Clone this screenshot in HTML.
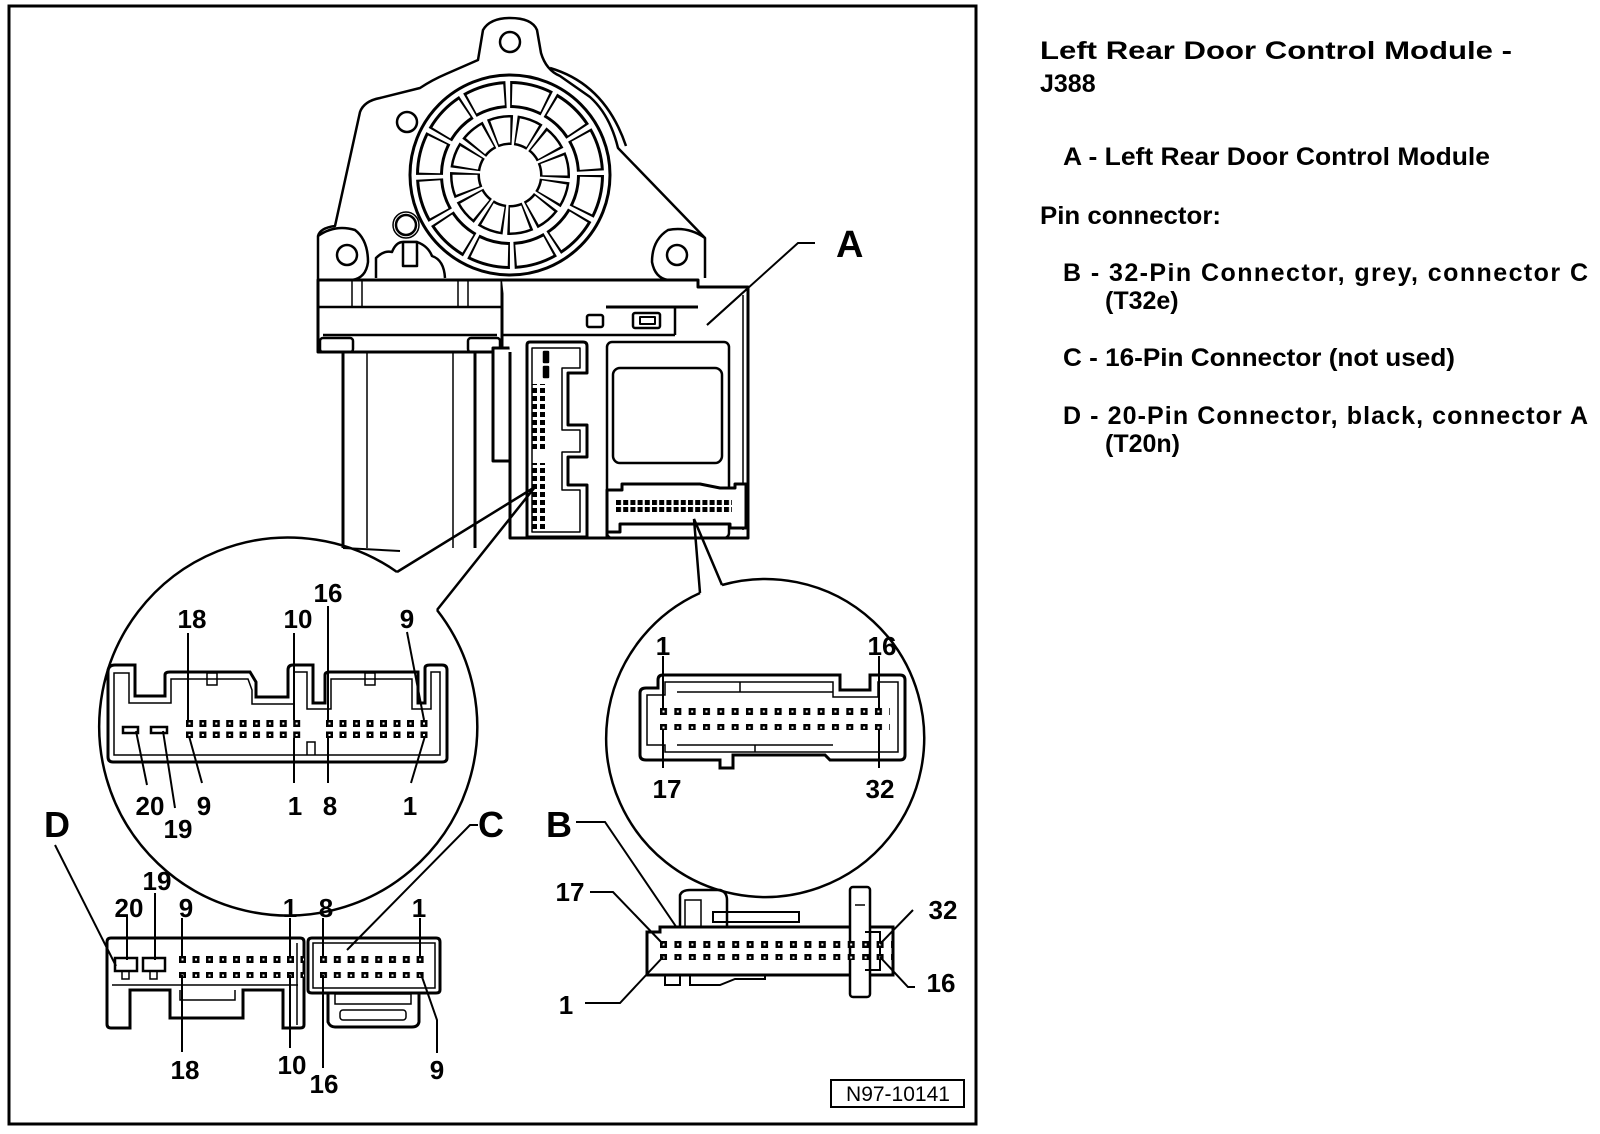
<!DOCTYPE html>
<html><head><meta charset="utf-8"><style>
html,body{margin:0;padding:0;background:#fff;}
svg{display:block;}
text{font-family:"Liberation Sans",Arial,sans-serif;font-weight:bold;fill:#000;}
</style></head><body>
<svg width="1600" height="1134" viewBox="0 0 1600 1134" xmlns="http://www.w3.org/2000/svg">
<defs>
<pattern id="pL" x="186" y="720" width="13.4" height="11.5" patternUnits="userSpaceOnUse"><rect x="0" y="0" width="7" height="7"/><rect x="2.5" y="2.5" width="2" height="2" fill="#fff"/></pattern>
<pattern id="pR" x="326" y="720" width="13.5" height="11.5" patternUnits="userSpaceOnUse"><rect x="0" y="0" width="7" height="7"/><rect x="2.5" y="2.5" width="2" height="2" fill="#fff"/></pattern>
<pattern id="pD" x="179" y="956" width="13.5" height="16" patternUnits="userSpaceOnUse"><rect x="0" y="0" width="7" height="7"/><rect x="2.5" y="2.5" width="2" height="2" fill="#fff"/></pattern>
<pattern id="pC" x="320" y="956" width="13.8" height="16" patternUnits="userSpaceOnUse"><rect x="0" y="0" width="7" height="7"/><rect x="2.5" y="2.5" width="2" height="2" fill="#fff"/></pattern>
<pattern id="pB" x="660" y="941" width="14.44" height="13" patternUnits="userSpaceOnUse"><rect x="0" y="0" width="7" height="7"/><rect x="2.5" y="2.5" width="2" height="2" fill="#fff"/></pattern>
<pattern id="pRC" x="660" y="708" width="14.33" height="16" patternUnits="userSpaceOnUse"><rect x="0" y="0" width="7" height="7"/><rect x="2.5" y="2.5" width="2" height="2" fill="#fff"/></pattern>
<pattern id="pS" x="616" y="500" width="7.2" height="7" patternUnits="userSpaceOnUse"><rect x="0" y="0" width="5" height="5"/></pattern>
<pattern id="pV" x="532" y="380" width="8" height="8" patternUnits="userSpaceOnUse"><rect x="0" y="0" width="5" height="5"/></pattern>
</defs>

<rect x="9" y="6" width="967" height="1118" fill="none" stroke="#000" stroke-width="3"/>

<g fill="none" stroke="#000" stroke-width="2.5" stroke-linejoin="round">
<path d="M318,280 L318,236 Q320,228 335,226 L360,112 Q364,101 380,98 L420,88 Q432,80 446,74 L478,60 L483,30 Q490,18 510,18 Q532,18 537,30 L541,53 Q546,70 560,76 L590,97 Q610,115 618,148 L705,238 L705,278"/>
<path d="M550,68 Q605,84 626,146"/>
<path d="M318,236 Q335,224 355,230 Q368,240 368,262 Q366,278 352,280"/>
<path d="M705,238 Q688,226 668,230 Q652,240 652,262 Q655,278 668,280"/>
<circle cx="347" cy="255" r="10"/>
<circle cx="677" cy="255" r="10"/>
<circle cx="510" cy="42" r="10"/>
<circle cx="407" cy="122" r="10"/>
<circle cx="406" cy="225" r="10"/>
<circle cx="406" cy="225" r="13" stroke-width="1.5"/>
<circle cx="510" cy="175" r="100" stroke-width="3"/>
<circle cx="510" cy="175" r="80.5" stroke-width="27" stroke-dasharray="38 4.15"/>
<circle cx="510" cy="175" r="80.5" stroke="#fff" stroke-width="21" stroke-dasharray="34 8.15" stroke-dashoffset="-2"/>
<circle cx="510" cy="175" r="45" stroke-width="30" stroke-dasharray="20 3.56" transform="rotate(7 510 175)"/>
<circle cx="510" cy="175" r="45" stroke="#fff" stroke-width="25" stroke-dasharray="16 7.56" stroke-dashoffset="-2" transform="rotate(7 510 175)"/>
<path d="M376,278 L376,258 Q384,250 392,252 Q396,242 403,242 L417,242 Q428,246 432,256 Q444,260 445,278" fill="#fff"/>
<rect x="403" y="242" width="14" height="24" fill="#fff"/>
<path d="M318,280 L502,280 L502,352 L318,352 Z" fill="#fff" stroke-width="3"/>
<line x1="318" y1="307" x2="502" y2="307"/>
<line x1="323" y1="335" x2="497" y2="335"/>
<line x1="352" y1="280" x2="352" y2="307" stroke-width="1.5"/>
<line x1="362" y1="280" x2="362" y2="307" stroke-width="1.5"/>
<line x1="458" y1="280" x2="458" y2="307" stroke-width="1.5"/>
<line x1="468" y1="280" x2="468" y2="307" stroke-width="1.5"/>
<rect x="320" y="338" width="33" height="14" rx="3" stroke-width="2.5"/>
<rect x="468" y="338" width="32" height="14" rx="3" stroke-width="2.5"/>
<line x1="343" y1="352" x2="343" y2="548" stroke-width="3"/>
<line x1="367" y1="352" x2="367" y2="548" stroke-width="1.5"/>
<line x1="453" y1="352" x2="453" y2="548" stroke-width="1.5"/>
<line x1="475" y1="352" x2="475" y2="548" stroke-width="3"/>
<line x1="343" y1="548" x2="400" y2="551" stroke-width="2"/>
<rect x="493" y="348" width="19" height="113" fill="#fff" stroke-width="3"/>
<path d="M502,280 L698,280 L698,287 L748,287 L748,538 L510,538 L510,352" fill="#fff" stroke-width="3"/>
<line x1="606" y1="307" x2="698" y2="307" stroke-width="3"/>
<line x1="502" y1="335" x2="675" y2="335"/>
<line x1="675" y1="307" x2="675" y2="335"/>
<rect x="587" y="315" width="16" height="12" rx="2"/>
<rect x="633" y="313" width="27" height="15" rx="2"/>
<path d="M640,317 L655,317 L655,324 L640,324 Z" stroke-width="2"/>
<line x1="707" y1="325" x2="748" y2="288" stroke-width="2"/>
<line x1="743" y1="295" x2="743" y2="530" stroke-width="1.5"/>
<rect x="607" y="342" width="122" height="196" rx="5"/>
<rect x="613" y="368" width="109" height="95" rx="7"/>
<path d="M527,345 Q527,342 530,342 L583,342 Q587,342 587,346 L587,373 L568,373 L568,425 L587,425 L587,457 L568,457 L568,485 L587,485 L587,537 L527,537 Z" fill="#fff" stroke-width="3"/>
<path d="M532,348 L580,348 L580,368 L562,368 L562,430 L580,430 L580,452 L562,452 L562,490 L580,490 L580,532 L532,532 Z" stroke-width="1.5"/>
<rect x="544" y="352" width="4" height="10" fill="#000"/>
<rect x="544" y="367" width="4" height="10" fill="#000"/>
<rect x="532" y="384" width="13" height="67" fill="url(#pV)" stroke="none"/>
<rect x="532" y="463" width="13" height="67" fill="url(#pV)" stroke="none"/>
<path d="M607,538 L607,490 L622,490 L622,484 L700,484 L720,488 L735,488 L735,484 L746,484 L746,528 L730,528 L730,524 L620,524 L620,532 L607,532" fill="#fff" stroke-width="3"/>
<rect x="616" y="500" width="116" height="13" fill="url(#pS)" stroke="none"/>
</g>

<polyline points="707,325 798,243 815,243" fill="none" stroke="#000" stroke-width="2"/>
<text x="836" y="257" font-size="38">A</text>

<g fill="none" stroke="#000" stroke-width="2.5">
<path d="M437,610 A189,189 0 1 1 397,572"/>
<polyline points="397,572 535,487 437,610"/>
<path d="M108,672 Q108,665 115,665 L135,665 L135,696 L165,696 L165,675 Q165,672 170,672 L250,672 L256,682 L256,697 L288,697 L288,670 Q288,665 293,665 L313,665 L313,703 L325,703 L325,675 Q325,672 330,672 L418,672 L418,703 L425,703 L425,668 Q425,665 430,665 L442,665 Q447,665 447,670 L447,758 Q447,762 442,762 L113,762 Q108,762 108,757 Z" stroke-width="3"/>
<path d="M114,673 L129,673 L129,703 L171,703 L171,679 L248,679 L252,690 L252,704 L294,704 L294,672 L307,672 L307,709 L331,709 L331,679 L412,679 L412,709 L431,709 L431,672 L440,672 L440,755 L114,755 Z" stroke-width="1.5"/>
<rect x="207" y="673" width="10" height="12" stroke-width="1.5"/>
<rect x="365" y="673" width="10" height="12" stroke-width="1.5"/>
<path d="M307,755 L307,742 L315,742 L315,755" stroke-width="1.5"/>
</g>
<rect x="186" y="720" width="120" height="18" fill="url(#pL)"/>
<rect x="326" y="720" width="106" height="18" fill="url(#pR)"/>
<rect x="123" y="727" width="15" height="6" fill="none" stroke="#000" stroke-width="2.5"/>
<rect x="151" y="727" width="16" height="6" fill="none" stroke="#000" stroke-width="2.5"/>
<g stroke="#000" stroke-width="2" fill="none">
<line x1="188" y1="633" x2="188" y2="720"/>
<line x1="294" y1="633" x2="294" y2="720"/>
<line x1="328" y1="606" x2="328" y2="720"/>
<line x1="407" y1="632" x2="424" y2="720"/>
<line x1="136" y1="731" x2="147" y2="785"/>
<line x1="163" y1="731" x2="175" y2="808"/>
<line x1="189" y1="736" x2="202" y2="783"/>
<line x1="294" y1="738" x2="294" y2="783"/>
<line x1="328" y1="738" x2="328" y2="783"/>
<line x1="425" y1="736" x2="411" y2="783"/>
</g>
<g font-size="26" text-anchor="middle">
<text x="192" y="628">18</text>
<text x="298" y="628">10</text>
<text x="328" y="602">16</text>
<text x="407" y="628">9</text>
<text x="150" y="815">20</text>
<text x="178" y="838">19</text>
<text x="204" y="815">9</text>
<text x="295" y="815">1</text>
<text x="330" y="815">8</text>
<text x="410" y="815">1</text>
</g>

<g fill="none" stroke="#000" stroke-width="2.5">
<path d="M722,585 A159,159 0 1 1 700,593"/>
<polyline points="700,593 694,519 722,585"/>
<path d="M640,693 Q640,688 646,688 L658,688 L658,680 Q658,675 663,675 L840,675 L840,690 L870,690 L870,675 L900,675 Q905,675 905,680 L905,755 Q905,760 900,760 L830,760 L825,755 L733,755 L733,768 L720,768 L720,760 L646,760 Q640,760 640,755 Z" stroke-width="3"/>
<path d="M647,695 L665,695 L665,682 L833,682 L833,697 L878,697 L878,682 L898,682 L898,752 L665,752 L665,745 L647,745 Z" stroke-width="1.5"/>
<line x1="677" y1="692" x2="833" y2="692" stroke-width="1.5"/>
<line x1="677" y1="745" x2="833" y2="745" stroke-width="1.5"/>
<line x1="740" y1="682" x2="740" y2="692" stroke-width="1.5"/>
<line x1="755" y1="745" x2="755" y2="752" stroke-width="1.5"/>
</g>
<rect x="660" y="708" width="230" height="22" fill="url(#pRC)"/>
<g stroke="#000" stroke-width="2">
<line x1="663" y1="656" x2="663" y2="708"/>
<line x1="879" y1="656" x2="879" y2="708"/>
<line x1="663" y1="730" x2="663" y2="768"/>
<line x1="879" y1="730" x2="879" y2="768"/>
</g>
<g font-size="26" text-anchor="middle">
<text x="663" y="655">1</text>
<text x="882" y="655">16</text>
<text x="667" y="798">17</text>
<text x="880" y="798">32</text>
</g>

<g fill="none" stroke="#000" stroke-width="2.5">
<path d="M107,942 Q107,938 111,938 L300,938 Q304,938 304,942 L304,1025 Q304,1028 300,1028 L283,1028 L283,990 L243,990 L243,1018 L170,1018 L170,990 L130,990 L130,1028 L111,1028 Q107,1028 107,1024 Z" stroke-width="3"/>
<line x1="112" y1="985" x2="298" y2="985" stroke-width="1.5"/>
<path d="M180,990 L180,1000 L235,1000 L235,990" stroke-width="1.5"/>
<line x1="297" y1="943" x2="297" y2="1025" stroke-width="1.5"/>
<rect x="115" y="958" width="22" height="13" stroke-width="2.5"/>
<rect x="143" y="958" width="22" height="13" stroke-width="2.5"/>
<rect x="122" y="971" width="7" height="8" stroke-width="1.5"/>
<rect x="150" y="971" width="7" height="8" stroke-width="1.5"/>
<path d="M308,942 Q308,938 312,938 L436,938 Q440,938 440,942 L440,990 Q440,993 436,993 L312,993 Q308,993 308,990 Z" stroke-width="3"/>
<rect x="313" y="943" width="122" height="45" stroke-width="1.5"/>
<path d="M328,994 L328,1022 Q330,1027 335,1027 L412,1027 Q418,1027 419,1022 L419,994" stroke-width="3"/>
<rect x="335" y="994" width="76" height="10" stroke-width="1.5"/>
<rect x="340" y="1010" width="66" height="10" rx="3" stroke-width="1.5"/>
<path d="M647,932 L660,932 L660,927 L893,927 L893,975 L647,975 Z" stroke-width="3"/>
<path d="M680,927 L680,895 Q682,890 690,890 L720,890 Q727,892 727,900 L727,927" stroke-width="2.5"/>
<rect x="685" y="900" width="16" height="27" stroke-width="1.5"/>
<rect x="713" y="912" width="86" height="10" stroke-width="2"/>
<rect x="850" y="887" width="20" height="110" rx="3" fill="#fff" stroke-width="2.5"/>
<line x1="855" y1="905" x2="865" y2="905" stroke-width="1.5"/>
<path d="M865,932 L880,932 L880,970 L865,970" stroke-width="2"/>
<path d="M665,975 L665,985 L680,985 L680,975 M690,975 L690,985 L720,985 L735,979 L765,979 L765,975" stroke-width="2"/>
</g>
<rect x="179" y="956" width="125" height="22" fill="url(#pD)"/>
<rect x="320" y="956" width="110" height="22" fill="url(#pC)"/>
<rect x="660" y="941" width="232" height="19" fill="url(#pB)"/>

<g stroke="#000" stroke-width="2" fill="none">
<line x1="155" y1="893" x2="155" y2="960"/>
<line x1="127" y1="915" x2="127" y2="960"/>
<line x1="182" y1="918" x2="182" y2="956"/>
<line x1="290" y1="918" x2="290" y2="956"/>
<line x1="323" y1="918" x2="323" y2="956"/>
<line x1="420" y1="918" x2="420" y2="956"/>
<line x1="182" y1="975" x2="182" y2="1052"/>
<line x1="290" y1="975" x2="290" y2="1048"/>
<line x1="323" y1="975" x2="323" y2="1068"/>
<polyline points="421,974 437,1020 437,1053"/>
<polyline points="347,950 470,825 478,825"/>
<line x1="55" y1="845" x2="116" y2="966"/>
<polyline points="576,822 605,822 677,928"/>
<polyline points="590,892 613,892 663,944"/>
<polyline points="585,1003 620,1003 663,957"/>
<line x1="913" y1="910" x2="880" y2="944"/>
<polyline points="880,957 908,987 915,987"/>
</g>
<g font-size="26" text-anchor="middle">
<text x="157" y="890">19</text>
<text x="129" y="917">20</text>
<text x="186" y="917">9</text>
<text x="290" y="917">1</text>
<text x="326" y="917">8</text>
<text x="419" y="917">1</text>
<text x="185" y="1079">18</text>
<text x="292" y="1074">10</text>
<text x="324" y="1093">16</text>
<text x="437" y="1079">9</text>
<text x="570" y="901">17</text>
<text x="566" y="1014">1</text>
<text x="943" y="919">32</text>
<text x="941" y="992">16</text>
</g>
<g font-size="36">
<text x="44" y="837">D</text>
<text x="478" y="837">C</text>
<text x="546" y="837">B</text>
</g>

<rect x="831" y="1080" width="133" height="27" fill="none" stroke="#000" stroke-width="2"/>
<text x="898" y="1101" font-size="21" text-anchor="middle" style="font-weight:normal">N97-10141</text>

<g font-size="25">
<text x="1040" y="59" textLength="472" lengthAdjust="spacingAndGlyphs">Left Rear Door Control Module -</text>
<text x="1040" y="92">J388</text>
<text x="1063" y="165" textLength="427" lengthAdjust="spacingAndGlyphs">A - Left Rear Door Control Module</text>
<text x="1040" y="224" textLength="181" lengthAdjust="spacingAndGlyphs">Pin connector:</text>
<text x="1063" y="281" textLength="525" lengthAdjust="spacing">B - 32-Pin Connector, grey, connector C</text>
<text x="1105" y="309">(T32e)</text>
<text x="1063" y="366" textLength="392" lengthAdjust="spacingAndGlyphs">C - 16-Pin Connector (not used)</text>
<text x="1063" y="424" textLength="525" lengthAdjust="spacing">D - 20-Pin Connector, black, connector A</text>
<text x="1105" y="452">(T20n)</text>
</g>
</svg>
</body></html>
